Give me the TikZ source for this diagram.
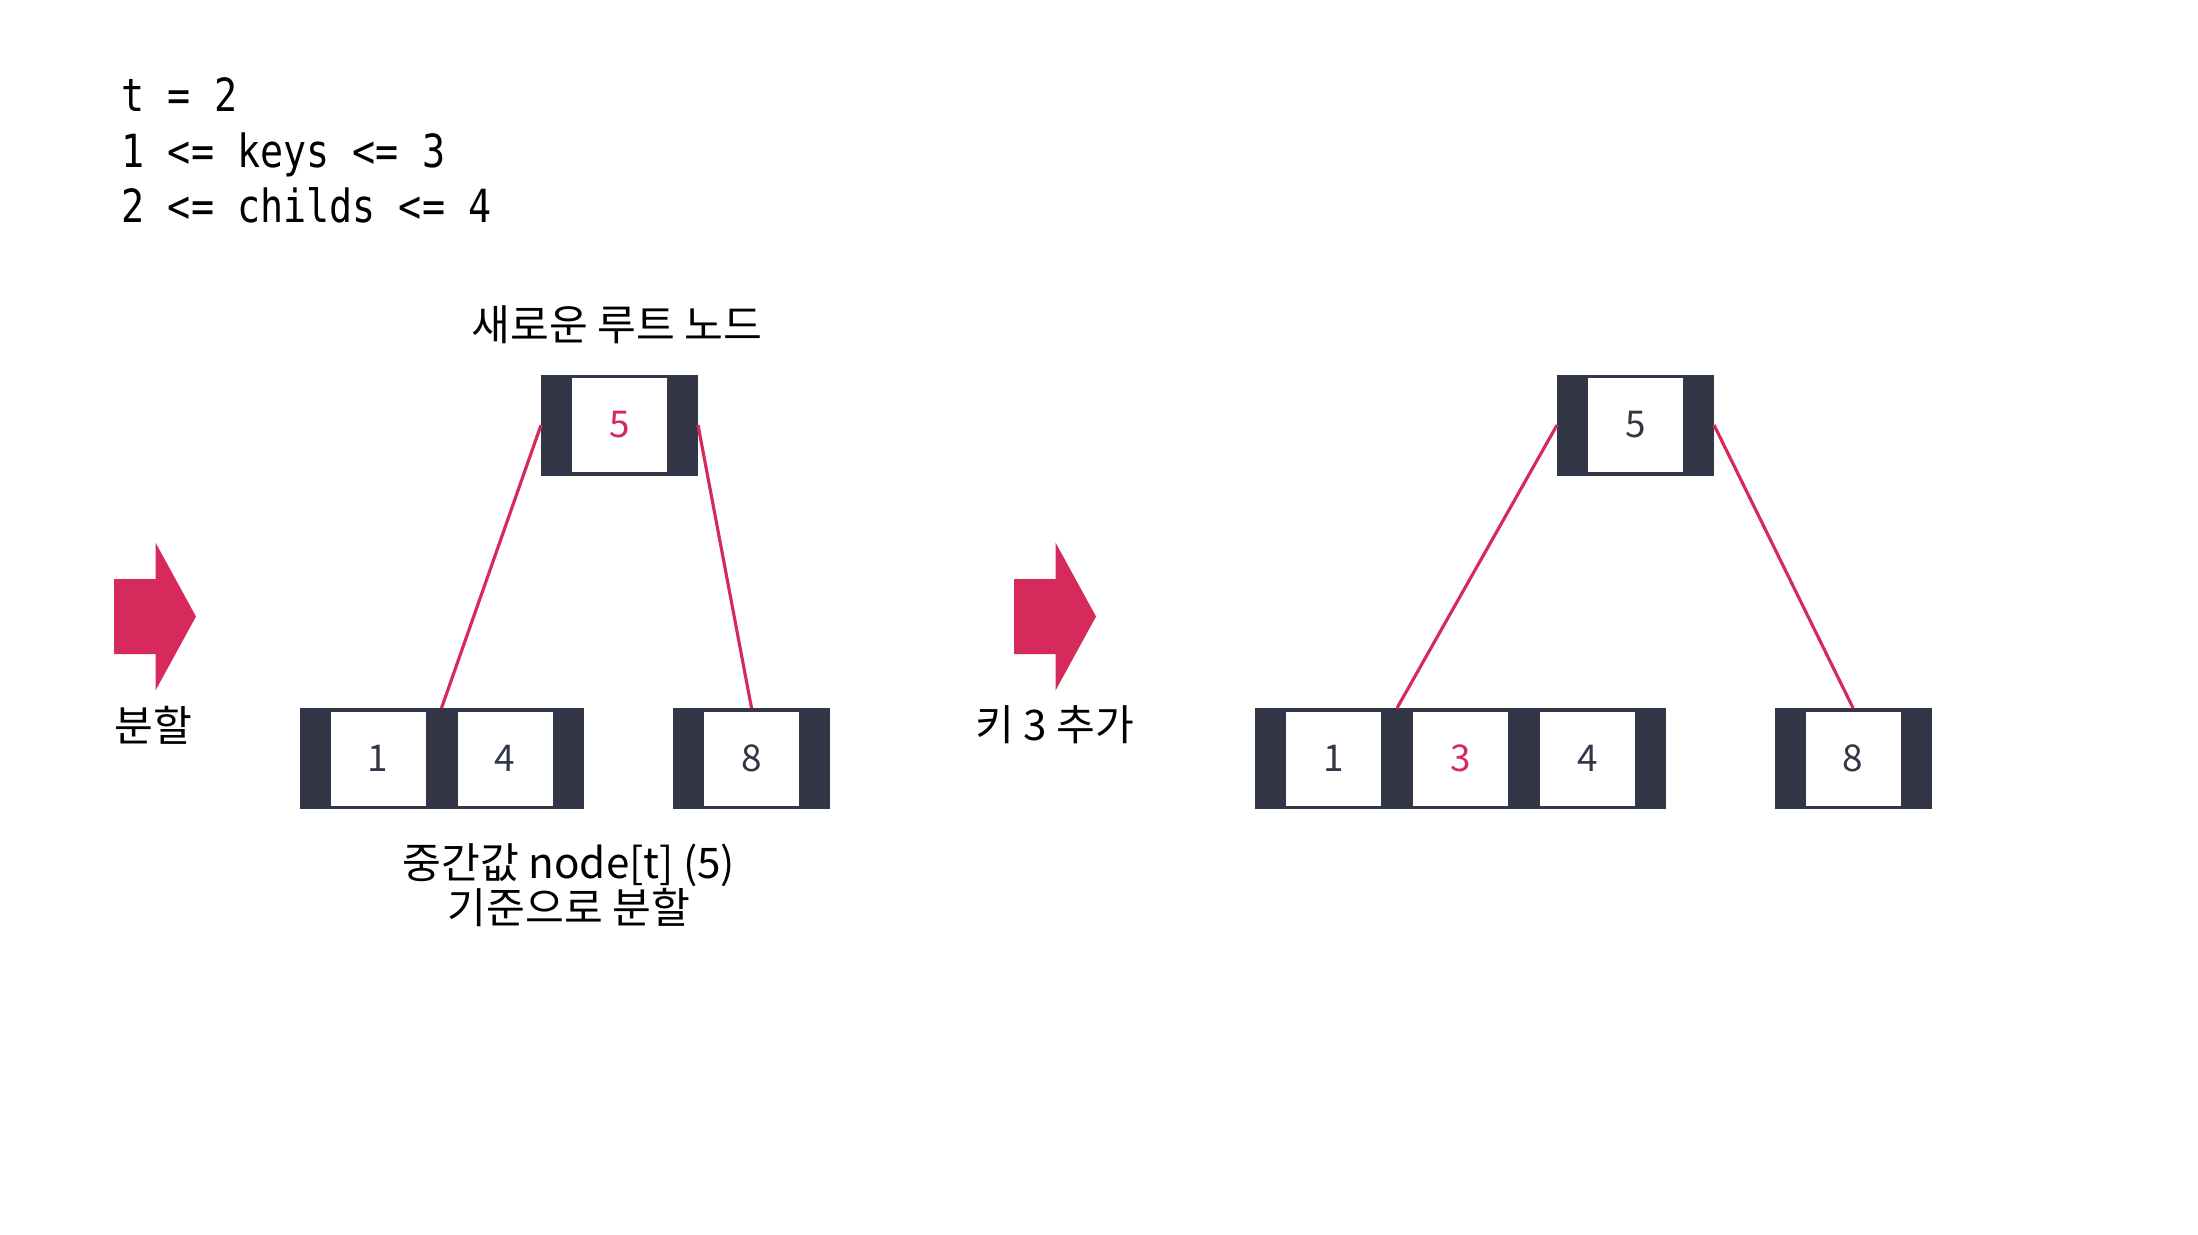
\documentclass[tikz,border=0pt]{standalone}
\usepackage{fontspec}
\setmainfont{Noto Sans CJK KR}
\newfontfamily\codefont[FakeStretch=0.84]{DejaVu Sans Mono}
\usepackage{tikz}
\usetikzlibrary{positioning, fit, calc, backgrounds}
\definecolor{framenavy}{HTML}{333647}
\definecolor{keyred}{HTML}{D62A5C}

\begin{document}
\begin{tikzpicture}[
    % GLOBAL CFG
    font=\fontsize{12pt}{14pt}\selectfont,
    % Styles
    key/.style={% one key slot of a node
        rectangle,
        fill=white,
        minimum width=0.95cm,
        minimum height=0.94cm,
        inner sep=0pt,
        outer sep=0pt,
        text=framenavy,
        font=\fontsize{10.5pt}{12pt}\selectfont,
        },
    newkey/.style={% the key that just moved or came in
        text=keyred,
        },
    bnode/.style={% dark frame round the keys
        rectangle,
        fill=framenavy,
        inner xsep=0.31cm,
        inner ysep=0.035cm,
        outer sep=0pt,
        },
    mylabel/.style={% captions
        inner sep=0pt,
        },
    link/.style={% child pointers
        draw=keyred,
        line width=0.9pt,
        },
    ]

    \useasboundingbox (0,0) rectangle (21.98,-12.34);

    % Parameters of the tree
    \node [font=\codefont\fontsize{13pt}{15.8pt}\selectfont, align=left,
           anchor=north west, inner sep=0pt] (params) at (1.21,-0.77)
          {t = 2\\1 <= keys <= 3\\2 <= childs <= 4};

    % Big arrows between the steps
    \foreach \ax in {1.14, 10.14}
        \fill [keyred] (\ax,-5.79) -- ++(0.415,0) -- ++(0,0.365)
            -- ++(0.405,-0.74) -- ++(-0.405,-0.74) -- ++(0,0.365)
            -- ++(-0.415,0) -- cycle;
    \node [mylabel] (step1) at (1.53,-7.25) {분할};
    \node [mylabel] (step2) at (10.55,-7.25) {키 3 추가};

    % Left tree: after the split, keys named a#
    \node [key, newkey] (a5) at (6.195,-4.25) {5};
    \node [key] (a1) at (3.78,-7.585) {1};
    \node [key, right=0.32cm of a1] (a4) {4};
    \node [key] (a8) at (7.515,-7.585) {8};

    % Right tree: after adding key 3, keys named b#
    \node [key] (b5) at (16.355,-4.25) {5};
    \node [key] (b1) at (13.335,-7.585) {1};
    \node [key, newkey, right=0.32cm of b1] (b3) {3};
    \node [key, right=0.32cm of b3] (b4) {4};
    \node [key] (b8) at (18.53,-7.585) {8};

    % Frames behind the keys
    \begin{scope}[on background layer]
        \node [bnode, fit=(a5)] (aroot) {};
        \node [bnode, fit=(a1)(a4)] (aleft) {};
        \node [bnode, fit=(a8)] (aright) {};
        \node [bnode, fit=(b5)] (broot) {};
        \node [bnode, fit=(b1)(b4)] (bleft) {};
        \node [bnode, fit=(b8)] (bright) {};
    \end{scope}

    % Pointer slots between keys
    \coordinate (ap1) at ($(a1.east)!0.5!(a4.west)$);
    \coordinate (bp1) at ($(b1.east)!0.5!(b3.west)$);

    % Drawing the links
    \draw [link] (aroot.west) -- (ap1 |- aleft.north);
    \draw [link] (aroot.east) -- (aright.north);
    \draw [link] (broot.west) -- (bp1 |- bleft.north);
    \draw [link] (broot.east) -- (bright.north);

    % Captions
    \node [mylabel] (rootlabel) at (6.17,-3.25) {새로운 루트 노드};
    \node [mylabel, align=center, font=\fontsize{12pt}{12.8pt}\selectfont]
          (splitnote) at (5.69,-8.85) {중간값 node[t] (5)\\기준으로 분할};
\end{tikzpicture}
\end{document}
